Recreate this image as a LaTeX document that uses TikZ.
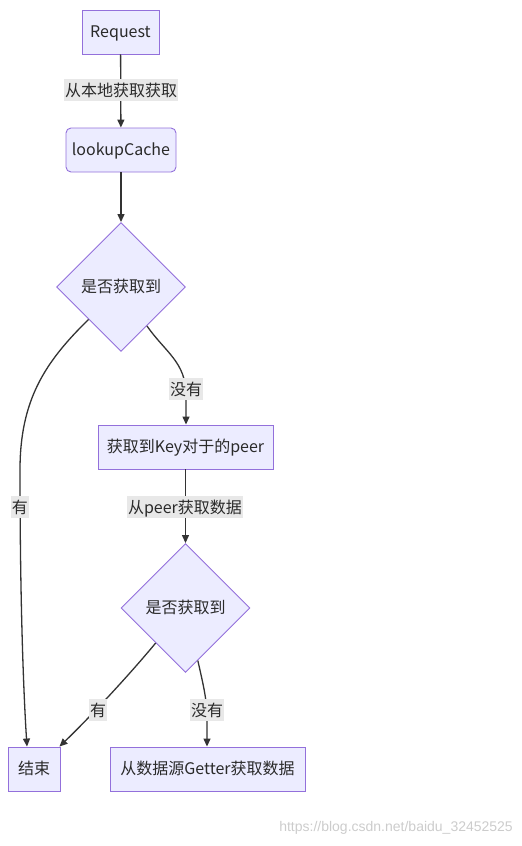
\documentclass[tikz,border=0pt]{standalone}
\usepackage{fontspec}
\setmainfont{Noto Sans CJK SC}
\newfontfamily\wmfont{Liberation Sans}
\usetikzlibrary{shapes.geometric,arrows.meta,calc}
\definecolor{nodefill}{HTML}{ECECFF}
\definecolor{nodeline}{HTML}{9370DB}
\definecolor{edgecol}{HTML}{333333}
\definecolor{lblbg}{HTML}{E8E8E8}
\definecolor{txtcol}{HTML}{2A2A2A}
\begin{document}
\begin{tikzpicture}[x=1pt,y=-1pt,
  box/.style={draw=nodeline,fill=nodefill,line width=0.9pt,inner sep=0pt,
    font=\fontsize{16}{18}\selectfont,text=txtcol,text height=11.8pt,text depth=0pt},
  decision/.style={box,diamond,shape aspect=1,minimum width=129pt,minimum height=129pt},
  lbl/.style={fill=lblbg,inner xsep=1pt,inner ysep=3pt,font=\fontsize{16}{18}\selectfont,text=txtcol,
    text height=14pt,text depth=2pt},
  edge/.style={draw=edgecol,line width=1.3pt,-{Triangle[length=8pt,width=7pt]}}]
\useasboundingbox (0,0) rectangle (522,846);
% nodes
\node[box,minimum width=77pt,minimum height=44pt] (req) at (120.5,32) {Request};
\node[box,rounded corners=5pt,minimum width=110pt,minimum height=44pt] (lc) at (121,150) {lookupCache};
\node[decision] (d1) at (121,287) {是否获取到};
\node[box,minimum width=175pt,minimum height=44pt] (key) at (185.5,447) {获取到Key对于的peer};
\node[decision] (d2) at (185.5,608) {是否获取到};
\node[box,minimum width=52pt,minimum height=44pt] (end) at (34,769) {结束};
\node[box,minimum width=195pt,minimum height=44pt] (get) at (207.5,769) {从数据源Getter获取数据};
% edges
\draw[edge] (req) -- (lc);
\draw[edge] (lc) -- (d1);
\draw[edge] ($(d1.south)!0.4!(d1.east)$) .. controls (165,352) and (186,362) .. (186,395) -- (key.north -| 186,0);
\draw[edge] ($(d1.west)!0.5!(d1.south)$) .. controls (45,362) and (20,400) .. (20,470)
   .. controls (20,610) and (24,700) .. ($(end.north)+(-7,0)$);
\draw[edge] (key) -- (d2);
\draw[edge] ($(d2.west)!0.54!(d2.south)$) .. controls (125,680) and (85,722) .. ($(end.north east)+(-1,0)$);
\draw[edge] ($(d2.south)!0.19!(d2.east)$) .. controls (204,688) and (207,700) .. (207,720) -- (get.north -| 207,0);
% edge labels
\node[lbl] (l1) at (121,90) {从本地获取获取};
\node[lbl] (l2) at (186,389) {没有};
\node[lbl] (l3) at (20,507) {有};
\node[lbl] (l4) at (185,507) {从peer获取数据};
\node[lbl] (l5) at (98,710) {有};
\node[lbl] (l6) at (207,710) {没有};
% watermark
\node[anchor=east,inner sep=0pt,text=black!20,font=\wmfont\fontsize{14}{16}\selectfont] (wm) at (513,828) {https://blog.csdn.net/baidu\_32452525};
\end{tikzpicture}
\end{document}
